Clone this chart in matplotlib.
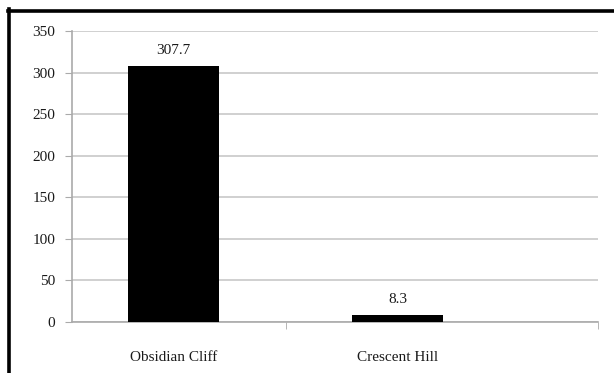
import matplotlib.pyplot as plt
from matplotlib.lines import Line2D

# Data
sites = ['Obsidian Cliff', 'Crescent Hill']
values = [307.7, 8.3]
yticks = [0, 50, 100, 150, 200, 250, 300, 350]

plt.rcParams['font.family'] = ['Liberation Serif', 'DejaVu Serif']
fs = 11

fig = plt.figure(figsize=(6.14, 3.73), dpi=100)
ax = fig.add_axes([72 / 614, 1 - 322 / 373, 526 / 614, 291 / 373])

x = range(len(sites))
bars = ax.bar(x, values, width=0.405, color='black', zorder=3)
for xi, v in zip(x, values):
    ax.text(xi, v + 11, f'{v}', ha='center', va='bottom', fontsize=fs, color='#1a1a1a')

ax.set_ylim(0, 350)
ax.set_xlim(-0.453, 1.895)
ax.set_yticks(yticks)
ax.set_yticklabels([str(t) for t in yticks], fontsize=fs, color='#1a1a1a')
ax.yaxis.grid(True, color='#c8c8c8', linewidth=1.2, zorder=0)
ax.tick_params(axis='y', length=5, color='#aaaaaa', pad=7)

# category labels without ticks, separator ticks instead
ax.set_xticks(list(x))
ax.set_xticklabels(sites, fontsize=fs, color='#1a1a1a')
ax.tick_params(axis='x', length=0, pad=21)
ax.set_xticks([0.502, 1.895], minor=True)
ax.tick_params(axis='x', which='minor', length=5, color='#aaaaaa', direction='out')

for side in ['top', 'right']:
    ax.spines[side].set_visible(False)
ax.spines['left'].set_color('#aaaaaa')
ax.spines['bottom'].set_color('#aaaaaa')
ax.spines['left'].set_linewidth(1.2)
ax.spines['bottom'].set_linewidth(1.2)

# black frame on top and left edges
fig.add_artist(Line2D([8.5 / 614, 8.5 / 614], [0, 1 - 9 / 373], color='black', linewidth=2.6))
fig.add_artist(Line2D([7.5 / 614, 1], [1 - 10.5 / 373, 1 - 10.5 / 373], color='black', linewidth=2.6))

fig.savefig('out.png', dpi=100)
